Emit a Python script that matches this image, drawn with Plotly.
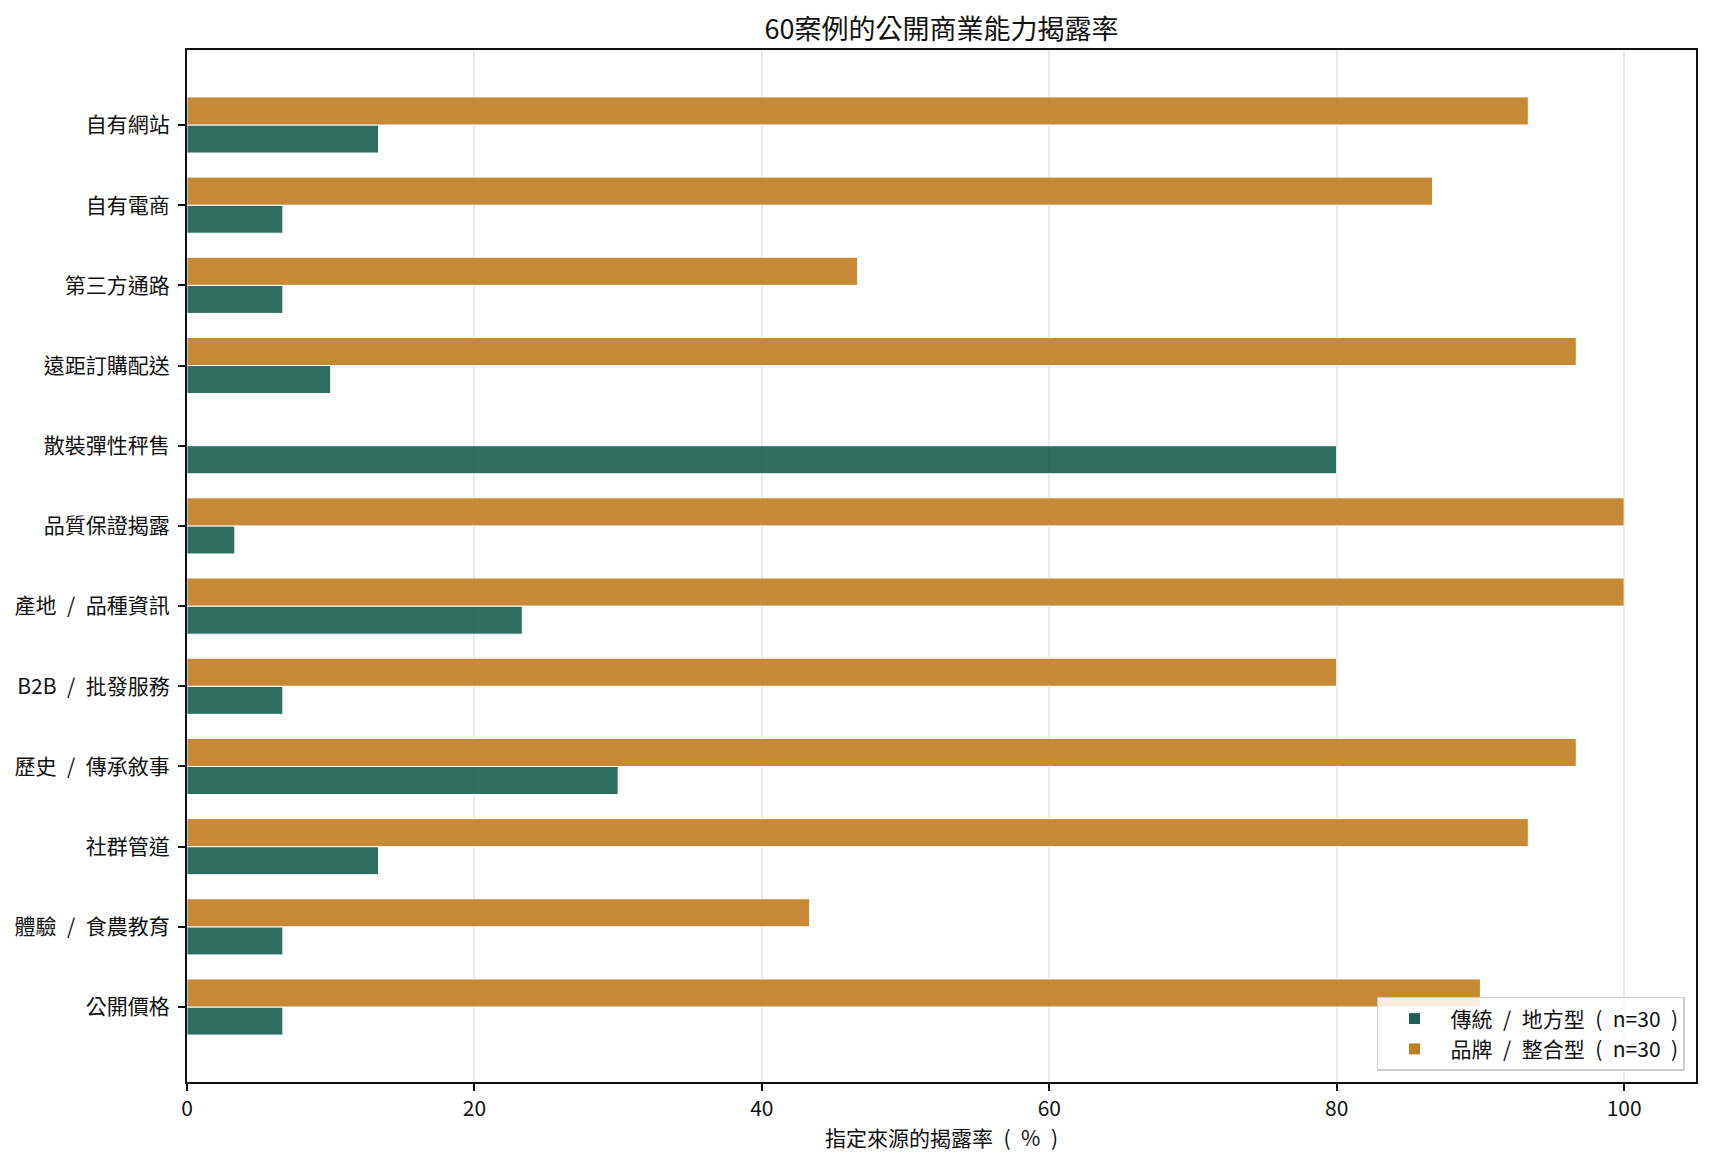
import plotly.graph_objects as go

SP = "\u2002"
categories = ["自有網站", "自有電商", "第三方通路", "遠距訂購配送", "散裝彈性秤售", "品質保證揭露",
              f"產地{SP}/{SP}品種資訊", f"B2B{SP}/{SP}批發服務", f"歷史{SP}/{SP}傳承敘事",
              "社群管道", f"體驗{SP}/{SP}食農教育", "公開價格"]
traditional = [13.33, 6.67, 6.67, 10.0, 80.0, 3.33, 23.33, 6.67, 30.0, 13.33, 6.67, 6.67]
brand = [93.33, 86.67, 46.67, 96.67, 0.0, 100.0, 100.0, 80.0, 96.67, 93.33, 43.33, 90.0]
x_ticks = [0, 20, 40, 60, 80, 100]
series_names = [f"傳統{SP}/{SP}地方型{SP}({SP}n=30{SP})", f"品牌{SP}/{SP}整合型{SP}({SP}n=30{SP})"]

FONT = "Noto Sans CJK TC, Noto Sans CJK SC, sans-serif"
GREEN = "#1C6254"
ORANGE = "#C28025"
BAR_W = 0.35

fig = go.Figure()
fig.add_trace(go.Bar(
    y=categories, x=traditional, orientation="h",
    name=series_names[0],
    marker=dict(color=GREEN, opacity=0.92, line=dict(color="white", width=1)),
    width=BAR_W, offset=0,
))
fig.add_trace(go.Bar(
    y=categories, x=brand, orientation="h",
    name=series_names[1],
    marker=dict(color=ORANGE, opacity=0.92, line=dict(color="white", width=1)),
    width=BAR_W, offset=-BAR_W,
))

fig.update_layout(
    width=1712, height=1167,
    margin=dict(l=187, r=16, t=50, b=85),
    paper_bgcolor="white", plot_bgcolor="white",
    font=dict(family=FONT, size=21, color="#111111"),
    barmode="overlay",
    title=dict(text="60案例的公開商業能力揭露率", x=0.5, xref="paper", xanchor="center",
               y=1, yref="paper", yanchor="bottom", pad=dict(b=11),
               font=dict(family=FONT, size=27, color="#111111")),
    showlegend=True,
    legend=dict(x=0.9927, y=0.0107, xanchor="right", yanchor="bottom",
                bgcolor="rgba(255,255,255,0.85)", bordercolor="#cccccc", borderwidth=1.5,
                font=dict(family=FONT, size=21, color="#111111"), traceorder="normal",
                itemwidth=62),
)
fig.update_xaxes(
    range=[0, 105], tickvals=x_ticks, ticktext=[str(v) for v in x_ticks],
    showgrid=True, gridcolor="#ebebeb", gridwidth=1.5, zeroline=False,
    showline=True, linecolor="#111111", linewidth=2, mirror=True,
    ticks="outside", ticklen=7, tickwidth=2, tickcolor="#111111",
    tickfont=dict(family=FONT, size=21, color="#111111"),
    title=dict(text=f"指定來源的揭露率{SP}({SP}%{SP})", font=dict(family=FONT, size=21, color="#111111"), standoff=8),
)
fig.update_yaxes(
    type="category", categoryorder="array", categoryarray=categories,
    range=[11.935, -0.935],
    showgrid=False, zeroline=False,
    showline=True, linecolor="#111111", linewidth=2, mirror=True,
    ticks="outside", ticklen=7, tickwidth=2, tickcolor="#111111",
    ticklabelstandoff=4,
    tickfont=dict(family=FONT, size=21, color="#111111"),
)

fig.write_html("out.html", config={"displayModeBar": False},
               post_script="document.body.style.margin='0px';document.body.style.overflow='hidden';")
